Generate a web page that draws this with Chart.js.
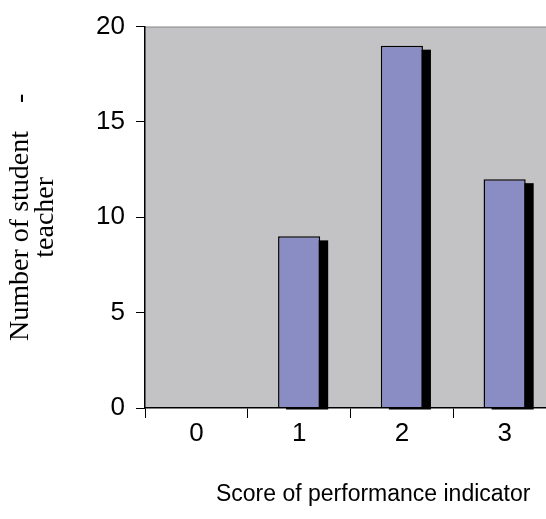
<!DOCTYPE html>
<html>
<head>
<meta charset="utf-8">
<script src="https://cdn.jsdelivr.net/npm/chart.js@4"></script>
<style>
  html, body { margin: 0; padding: 0; background: #fff; overflow: hidden; }
  #wrap { width: 556px; height: 519px; }
</style>
</head>
<body>
<div id="wrap"><canvas id="scoreChart" width="556" height="519"></canvas></div>
<script>
// Du lieu doc tu hinh
const scoreLabels = ["0", "1", "2", "3"];
const studentCounts = [0, 9, 19, 12];
const yTicks = [0, 5, 10, 15, 20];

const xTitle = "Score of performance indicator    ";
const yTitle = ["Number of student    -", "teacher"];

// nen xam cho vung ve + vien tren
const plotBackground = {
  id: "plotBackground",
  beforeDraw(chart) {
    const { ctx, chartArea: a } = chart;
    ctx.save();
    ctx.fillStyle = "#c3c3c5";
    ctx.fillRect(a.left, a.top, a.right - a.left, a.bottom - a.top);
    ctx.strokeStyle = "#8e8e8e";
    ctx.lineWidth = 1;
    ctx.beginPath();
    ctx.moveTo(a.left, a.top + 0.5);
    ctx.lineTo(a.right, a.top + 0.5);
    ctx.stroke();
    ctx.restore();
  },
};

// bong den lech sang phai / xuong duoi cho cac cot
const barShadow = {
  id: "barShadow",
  beforeDatasetsDraw(chart) {
    const ctx = chart.ctx;
    const meta = chart.getDatasetMeta(0);
    ctx.save();
    ctx.fillStyle = "#000";
    meta.data.forEach((bar) => {
      const p = bar.getProps(["x", "y", "base", "width"], true);
      if (p.base - p.y < 1) return;
      ctx.fillRect(p.x - p.width / 2 + 8, p.y + 4, p.width, p.base - p.y - 2);
    });
    ctx.restore();
  },
};

const ctx = document.getElementById("scoreChart").getContext("2d");
new Chart(ctx, {
  type: "bar",
  data: {
    labels: scoreLabels,
    datasets: [
      {
        data: studentCounts,
        backgroundColor: "#8a8cc4",
        borderColor: "#000",
        borderWidth: 1.5,
        borderSkipped: "bottom",
        barPercentage: 0.41,
        categoryPercentage: 1,
        clip: false,
      },
    ],
  },
  options: {
    responsive: false,
    devicePixelRatio: 1,
    animation: false,
    layout: { padding: { top: 26, left: 0, right: 0, bottom: 0 } },
    plugins: {
      legend: { display: false },
      tooltip: { enabled: false },
    },
    scales: {
      x: {
        afterFit(scale) {
          scale.height = 111;
        },
        grid: {
          offset: true,
          drawOnChartArea: false,
          drawTicks: true,
          tickLength: 10,
          color: "#000",
          lineWidth: 1,
        },
        border: { display: true, color: "#000", width: 1.5, z: 1 },
        ticks: {
          color: "#000",
          font: { family: "Liberation Sans", size: 26 },
          padding: 0,
          maxRotation: 0,
        },
        title: {
          display: true,
          text: xTitle,
          align: "end",
          color: "#000",
          font: { family: "Liberation Sans", size: 23 },
          padding: { top: 0, bottom: 11 },
        },
      },
      y: {
        min: 0,
        max: 20,
        afterFit(scale) {
          scale.width = 145;
        },
        afterBuildTicks(scale) {
          scale.ticks = yTicks.map((v) => ({ value: v }));
        },
        grid: {
          drawOnChartArea: false,
          drawTicks: true,
          tickLength: 9,
          color: "#000",
          lineWidth: 1,
        },
        border: { display: true, color: "#000", width: 1.5, z: 1 },
        ticks: {
          color: "#000",
          font: { family: "Liberation Sans", size: 26 },
          padding: 11,
        },
        title: {
          display: true,
          text: yTitle,
          color: "#000",
          font: { family: "Liberation Serif", size: 28, lineHeight: 0.9 },
          padding: { top: 8, bottom: 0 },
        },
      },
    },
  },
  plugins: [plotBackground, barShadow],
});
</script>
</body>
</html>
